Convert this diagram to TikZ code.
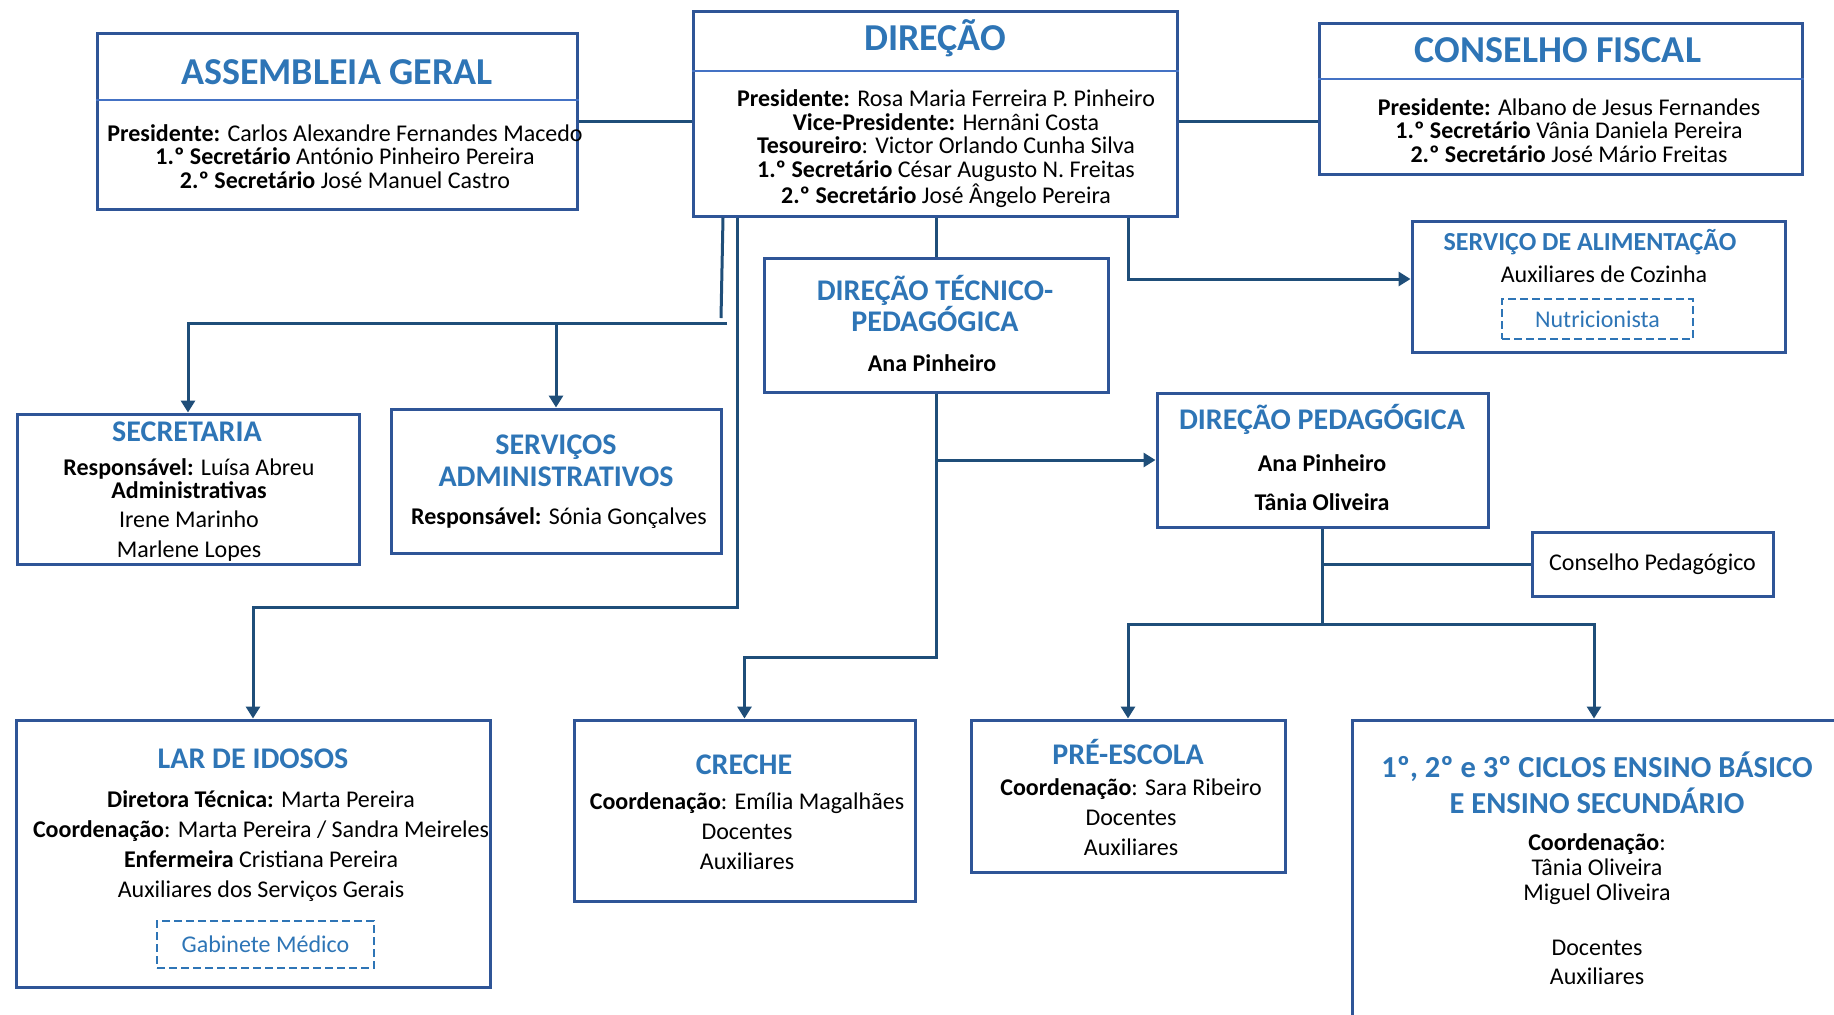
\documentclass[tikz,border=0pt]{standalone}
\usepackage{fontspec}
\setmainfont{Carlito}
\usepackage{tikz}
\usetikzlibrary{arrows.meta,fit,calc}
\definecolor{boxblue}{HTML}{2F5597}
\definecolor{linkblue}{HTML}{1F4E79}
\definecolor{titleblue}{HTML}{2E75B6}
\definecolor{ruleblue}{HTML}{4472C4}
\pgfkeys{tikz/orgbox/.style={draw=boxblue,line width=1.5pt,inner sep=0pt,fit={#1}}}
\pgfkeys{tikz/dashbox/.style={draw=titleblue,line width=1.2pt,dash pattern=on 4pt off 2pt,inner sep=0pt,fit={#1}}}
\pgfkeys{tikz/dashlabel/.style={text=titleblue,font=\fontsize{12}{12}\selectfont,inner sep=0pt}}
\pgfkeys{tikz/orgrule/.style={draw=ruleblue,line width=1pt}}
\pgfkeys{tikz/bigtitle/.style={text=titleblue,font=\fontsize{19}{22}\selectfont\bfseries,align=center,inner sep=0pt}}
\pgfkeys{tikz/unittitle/.style={text=titleblue,font=\fontsize{15}{16}\selectfont\bfseries,align=center,inner sep=0pt}}
\pgfkeys{tikz/bodytext/.style={font=\fontsize{12}{11.75}\selectfont,align=center,inner sep=0pt}}
\pgfkeys{tikz/looselines/.style={bodytext,font=\fontsize{12}{15}\selectfont}}
\pgfkeys{tikz/link/.style={draw=linkblue,line width=1.5pt}}
\pgfkeys{tikz/arrowlink/.style={link,-{Triangle[width=7pt,length=6pt]}}}
\newcommand*\orgrule[2]{
    \draw[orgrule] ($(#1.north west)+(0,#2)$) -- ($(#1.north east)+(0,#2)$);
}

\begin{document}
\begin{tikzpicture}[x=0.5pt,y=-0.5pt]
    \useasboundingbox (0,0) rectangle (1834,1014);
    \clip (0,0) rectangle (1834,1014);

    \node[orgbox={(97,33) (577,209)}] (ag) {};
    \node[orgbox={(693,11) (1177,216)}] (dir) {};
    \node[orgbox={(1319,23) (1802,174)}] (cf) {};
    \node[orgbox={(1412,221) (1785,352)}] (alim) {};
    \node[orgbox={(764,258) (1108,392)}] (dtp) {};
    \node[orgbox={(17,414) (359,564)}] (sec) {};
    \node[orgbox={(391,409) (721,553)}] (sadm) {};
    \node[orgbox={(1157,393) (1488,527)}] (dp) {};
    \node[orgbox={(1532,532) (1773,596)},label={[dashlabel,text=black]center:Conselho Pedagógico}] (cped) {};
    \node[orgbox={(16,720) (490,987)}] (lar) {};
    \node[orgbox={(574,720) (915,901)}] (creche) {};
    \node[orgbox={(971,720) (1285,872)}] (pre) {};
    \node[orgbox={(1352,720) (1836,1040)}] (ciclos) {};
    \orgrule{ag}{68}
    \orgrule{dir}{61}
    \orgrule{cf}{57}

    \node[bigtitle] (ag-title) at (337,72) {ASSEMBLEIA GERAL};
    \node[bodytext] (ag-body) at (345,156.5) {\textbf{Presidente:} Carlos Alexandre Fernandes Macedo\\
        \textbf{1.º Secretário} António Pinheiro Pereira\\
        \textbf{2.º Secretário} José Manuel Castro};
    \node[bigtitle] (dir-title) at (935,38) {DIREÇÃO};
    \node[bodytext] (dir-body) at (946,148.5) {\textbf{Presidente:} Rosa Maria Ferreira P. Pinheiro\\
        \textbf{Vice-Presidente:} Hernâni Costa\\
        \textbf{Tesoureiro}: Victor Orlando Cunha Silva\\
        \textbf{1.º Secretário} César Augusto N. Freitas\\
        \textbf{2.º Secretário} José Ângelo Pereira};
    \node[bigtitle] (cf-title) at (1558,50) {CONSELHO FISCAL};
    \node[bodytext] (cf-body) at (1569,130.5) {\textbf{Presidente:} Albano de Jesus Fernandes\\
        \textbf{1.º Secretário} Vânia Daniela Pereira\\
        \textbf{2.º Secretário} José Mário Freitas};

    \node[unittitle,font=\fontsize{13}{16}\selectfont\bfseries] (alim-title) at (1590,242) {SERVIÇO DE ALIMENTAÇÃO};
    \node[bodytext] (alim-body) at (1604,274) {Auxiliares de Cozinha};
    \node[dashbox={(1502,299) (1693,339)},label={[dashlabel]center:Nutricionista}] (nutri) {};

    \node[unittitle,font=\fontsize{15}{15.5}\selectfont\bfseries] (dtp-title) at (935,303.5) {DIREÇÃO TÉCNICO-\\PEDAGÓGICA};
    \node[bodytext] (dtp-body) at (932,363) {\textbf{Ana Pinheiro}};

    \node[unittitle] (sec-title) at (187,432) {SECRETARIA};
    \node[bodytext] (sec-body) at (189,510) {\textbf{Responsável:} Luísa Abreu\\
        \textbf{Administrativas}\\[2.5pt]
        Irene Marinho\\[3.5pt]
        Marlene Lopes};
    \node[unittitle] (sadm-title) at (556,461) {SERVIÇOS\\ADMINISTRATIVOS};
    \node[bodytext] (sadm-body) at (559,518) {\textbf{Responsável:} Sónia Gonçalves};

    \node[unittitle] (dp-title) at (1322,419) {DIREÇÃO PEDAGÓGICA};
    \node[bodytext] (dp-body) at (1322,482.5) {\textbf{Ana Pinheiro}\\[7.75pt]\textbf{Tânia Oliveira}};

    \node[unittitle] (lar-title) at (253,759) {LAR DE IDOSOS};
    \node[looselines] (lar-body) at (261,846.5) {\textbf{Diretora Técnica:} Marta Pereira\\
        \textbf{Coordenação}: Marta Pereira / Sandra Meireles\\
        \textbf{Enfermeira} Cristiana Pereira\\
        Auxiliares dos Serviços Gerais};
    \node[dashbox={(157,921) (374,968)},label={[dashlabel]center:Gabinete Médico}] (gabinete) {};

    \node[unittitle] (creche-title) at (744,765) {CRECHE};
    \node[looselines] (creche-body) at (747,831) {\textbf{Coordenação}: Emília Magalhães\\
        Docentes\\
        Auxiliares};

    \node[unittitle] (pre-title) at (1128,752) {PRÉ-ESCOLA};
    \node[looselines] (pre-body) at (1131,817.5) {\textbf{Coordenação}: Sara Ribeiro\\
        Docentes\\
        Auxiliares};

    \node[unittitle,font=\fontsize{15.25}{18}\selectfont\bfseries] (ciclos-title) at (1597,783) {1º, 2º e 3º CICLOS ENSINO BÁSICO\\E ENSINO SECUNDÁRIO};
    \node[bodytext,font=\fontsize{12}{12.5}\selectfont] (ciclos-body) at (1597,909) {\textbf{Coordenação}:\\
        Tânia Oliveira\\
        Miguel Oliveira\\[15pt]
        Docentes\\[2pt]
        Auxiliares};

    \coordinate (admin-top) at (723,0);
    \coordinate (admin-drop) at (721,318);
    \coordinate (admin-bar) at (727,323);
    \coordinate (lar-bend) at (737,607);
    \coordinate (alim-in) at (1128,279);
    \coordinate (creche-bend) at (937,657);
    \coordinate (ped-bar) at (1323,624);

    \draw[link] (ag.east) -- (ag.east -| dir.west);
    \draw[link] (dir.east |- ag.east) -- (ag.east -| cf.west);
    \draw[link] (dir.south -| dtp.north) -- (dtp.north);
    \draw[arrowlink] (dir.south -| alim-in) |- (alim.west |- alim-in);
    \draw[link] (dir.south -| admin-top) -- (admin-drop);
    \draw[arrowlink] (admin-bar) -| (sec.north);
    \draw[arrowlink] (admin-bar -| sadm.north) -- (sadm.north);
    \draw[arrowlink] (dir.south -| lar-bend) -- (lar-bend) -| (lar.north);
    \draw[arrowlink] (dtp.south) -- (dtp.south |- creche-bend) -| (creche.north);
    \draw[arrowlink] (dtp.south |- dp.west) -- (dp.west);
    \draw[link] (dp.south) -- (dp.south |- ped-bar);
    \draw[link] (dp.south |- cped.west) -- (cped.west);
    \draw[arrowlink] (dp.south |- ped-bar) -| (pre.north);
    \draw[arrowlink] (dp.south |- ped-bar) -| (ciclos.north);
\end{tikzpicture}
\end{document}
